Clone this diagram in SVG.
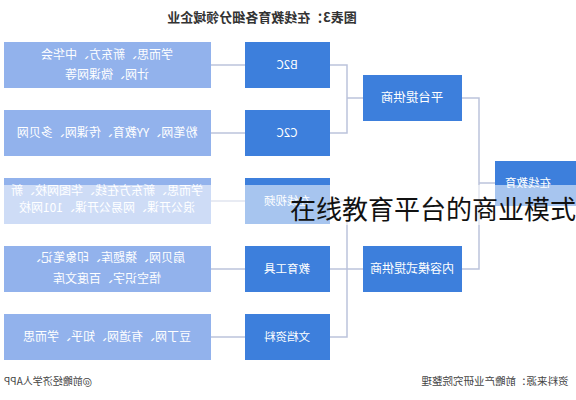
<svg xmlns="http://www.w3.org/2000/svg" width="576" height="400" viewBox="0 0 576 400">
<style>
text{font-family:"Noto Sans CJK SC","Noto Sans",sans-serif;}
.dk{fill:#3d7fdc;}
.lt{fill:#92b2ec;}
.w{fill:#ffffff;font-size:11.5px;text-anchor:middle;}
.wm{fill:#ffffff;font-size:12px;text-anchor:middle;}
.ln{stroke:#bcc3dc;stroke-width:1.5;fill:none;}
</style>
<rect width="576" height="400" fill="#ffffff"/>
<text x="-262" y="22" transform="scale(-1 1)" style="font-size:13px;font-weight:bold;fill:#333;text-anchor:middle">图表3：在线教育各细分领域企业</text>
<g id="connectors">
<path class="ln" d="M211 65H245M211 133H245M211 201H245M211 269H245M211 337H245"/>
<path class="ln" d="M330 65H347V133H330M347 98H363"/>
<path class="ln" d="M330 201H347V337H330M330 269H363"/>
<path class="ln" d="M462 98H479V269H462M479 183H495"/>
</g>
<g id="l1"><rect class="lt" x="4" y="42" width="207" height="46"/>
<text class="wm" x="-107" y="59" transform="scale(-1 1)">学而思、新东方、中华会</text>
<text class="wm" x="-107" y="79" transform="scale(-1 1)">计网、微课网等</text></g>
<g id="l2"><rect class="lt" x="4" y="110" width="207" height="46"/>
<text class="wm" x="-107" y="137" transform="scale(-1 1)">粉笔网、YY教育、传课网、多贝网</text></g>
<g id="l3"><rect class="lt" x="4" y="178" width="207" height="46"/>
<text class="wm" x="-107" y="195" transform="scale(-1 1)">学而思、新东方在线、华图网校、新</text>
<text class="wm" x="-107" y="212" transform="scale(-1 1)">浪公开课、网易公开课、101网校</text></g>
<g id="l4"><rect class="lt" x="4" y="246" width="207" height="46"/>
<text class="wm" x="-107" y="262" transform="scale(-1 1)">扇贝网、猿题库、印象笔记、</text>
<text class="wm" x="-107" y="283" transform="scale(-1 1)">悟空识字、百度文库</text></g>
<g id="l5"><rect class="lt" x="4" y="314" width="207" height="46"/>
<text class="wm" x="-107" y="341" transform="scale(-1 1)">豆丁网、有道网、知乎、学而思</text></g>
<g id="m1"><rect class="dk" x="245" y="42" width="85" height="46"/>
<text class="w" x="-287" y="69" transform="scale(-1 1)">B2C</text></g>
<g id="m2"><rect class="dk" x="245" y="110" width="85" height="46"/>
<text class="w" x="-287" y="137" transform="scale(-1 1)">C2C</text></g>
<g id="m3"><rect class="dk" x="245" y="178" width="85" height="46"/>
<text class="w" x="-287" y="205" transform="scale(-1 1)">在线视频</text></g>
<g id="m4"><rect class="dk" x="245" y="246" width="85" height="46"/>
<text class="w" x="-287" y="273" transform="scale(-1 1)">教育工具</text></g>
<g id="m5"><rect class="dk" x="245" y="314" width="85" height="46"/>
<text class="w" x="-287" y="341" transform="scale(-1 1)">文档资料</text></g>
<g id="p1"><rect class="dk" x="363" y="75" width="99" height="46"/>
<text class="w" x="-412" y="102" transform="scale(-1 1)" style="font-size:12.5px">平台提供商</text></g>
<g id="p2"><rect class="dk" x="363" y="246" width="99" height="46"/>
<text class="w" x="-412" y="273" transform="scale(-1 1)" style="font-size:12px">内容模式提供商</text></g>
<g id="root"><rect class="dk" x="495" y="161" width="85" height="45"/>
<text class="w" x="-528" y="187" transform="scale(-1 1)">在线教育</text></g>
<text x="-48" y="385" transform="scale(-1 1)" style="font-size:10px;fill:#444;text-anchor:middle">@前瞻经济学人APP</text>
<text x="-495" y="385" transform="scale(-1 1)" style="font-size:10.5px;fill:#444;text-anchor:middle">资料来源：前瞻产业研究院整理</text>
<rect x="0" y="185" width="576" height="40" fill="#ffffff" fill-opacity="0.55"/>
<text x="290" y="219" style="font-size:26px;fill:#111;">在线教育平台的商业模式</text>
</svg>
